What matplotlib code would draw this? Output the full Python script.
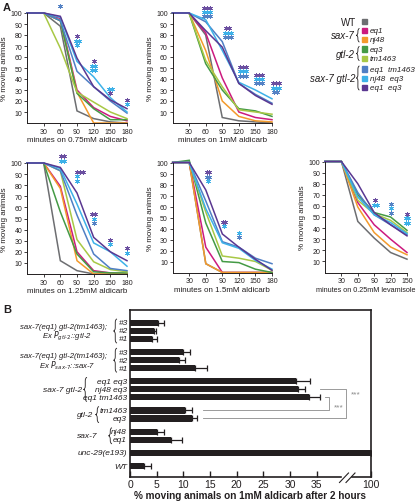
import numpy as np
import matplotlib.pyplot as plt
import matplotlib.transforms as mtransforms
from matplotlib.path import Path
from matplotlib.patches import PathPatch, Rectangle
from matplotlib.lines import Line2D

plt.rcParams["font.family"] = ["Liberation Sans Narrow", "Liberation Sans", "DejaVu Sans"]
plt.rcParams["mathtext.fontset"] = "custom"
plt.rcParams["mathtext.it"] = "Liberation Sans Narrow:italic"
plt.rcParams["mathtext.rm"] = "Liberation Sans Narrow"
plt.rcParams["axes.linewidth"] = 0.7

W, H = 416, 502
INK = "#231f20"

# ---- panel A data (% moving animals) ----
series = ["WT", "sax-7 eq1", "sax-7 nj48", "gtl-2 eq3", "gtl-2 tm1463",
          "eq1 tm1463", "nj48 eq3", "eq1 eq3"]
colors = ["#6d6e71", "#cc1a7f", "#f39a2c", "#449a45", "#a8c845",
          "#4f7fc4", "#3db1e8", "#5a3791"]
star_colors = {"p": "#6b4fa0", "c": "#3db1e8", "b": "#5582c4"}

t_ald = [0, 30, 60, 90, 120, 150, 180]
t_lev = [0, 30, 60, 90, 120, 150]

ald_075 = [
    [100, 100, 88, 11, 4, 1, 0],
    [100, 100, 95, 30, 14, 6, 2],
    [100, 100, 93, 28, 0, 0, 0],
    [100, 100, 93, 27, 13, 3, 3],
    [100, 100, 68, 28, 19, 10, 4],
    [100, 100, 93, 47, 33, 20, 9],
    [100, 100, 96, 56, 42, 23, 10],
    [100, 100, 97, 59, 33, 21, 13],
]
ald_1 = [
    [100, 100, 80, 5, 2, 1, 0],
    [100, 100, 82, 41, 10, 5, 3],
    [100, 100, 66, 20, 6, 2, 1],
    [100, 100, 54, 30, 13, 11, 6],
    [100, 100, 57, 33, 12, 10, 8],
    [100, 100, 92, 74, 36, 26, 18],
    [100, 100, 94, 66, 37, 30, 22],
    [100, 100, 84, 69, 36, 25, 17],
]
ald_125 = [
    [100, 100, 12, 3, 0, 0, 0],
    [100, 100, 79, 20, 3, 1, 0],
    [100, 100, 77, 12, 0, 0, 0],
    [100, 100, 56, 18, 2, 1, 1],
    [100, 100, 93, 31, 11, 4, 2],
    [100, 100, 93, 53, 18, 5, 3],
    [100, 100, 95, 63, 28, 20, 7],
    [100, 100, 96, 73, 33, 20, 12],
]
ald_15 = [
    [100, 100, 8, 0, 0, 0, 0],
    [100, 100, 23, 0, 0, 0, 0],
    [100, 100, 8, 0, 0, 0, 0],
    [100, 102, 45, 10, 9, 3, 0],
    [100, 100, 55, 15, 13, 10, 2],
    [100, 100, 65, 28, 23, 13, 8],
    [100, 100, 58, 27, 22, 11, 3],
    [100, 100, 75, 35, 23, 12, 2],
]
lev_025 = [
    [100, 100, 46, 31, 18, 12],
    [100, 100, 63, 43, 30, 18],
    [100, 100, 59, 36, 23, 16],
    [100, 100, 70, 54, 50, 38],
    [100, 100, 65, 53, 47, 36],
    [100, 100, 72, 52, 43, 34],
    [100, 100, 68, 52, 45, 35],
    [100, 100, 80, 54, 43, 33],
]

# significance asterisks: (minute, height, count, colour key)
stars_075 = [(60, 106, 1, "b"),
             (90, 79, 1, "p"), (90, 75, 2, "c"), (90, 71, 1, "c"),
             (120, 56, 1, "p"), (120, 52, 2, "c"), (120, 48, 2, "c"),
             (150, 31, 2, "c"), (150, 27, 1, "p"),
             (180, 21, 1, "p"), (180, 17, 1, "c")]
stars_1 = [(63, 105, 3, "p"), (63, 101, 3, "c"), (63, 97, 3, "b"),
           (100, 86, 2, "p"), (100, 82, 3, "c"), (100, 78, 3, "b"),
           (128, 51, 3, "p"), (128, 47, 3, "c"), (128, 43, 3, "b"),
           (156, 44, 3, "p"), (156, 40, 3, "c"), (156, 36, 3, "b"),
           (187, 36, 3, "p"), (187, 32, 3, "c"), (187, 28, 2, "b")]
stars_125 = [(63, 106, 2, "p"), (63, 102, 2, "c"),
             (95, 92, 3, "p"), (90, 88, 1, "c"), (90, 84, 1, "c"),
             (120, 54, 2, "p"), (120, 50, 1, "c"), (120, 46, 1, "b"),
             (150, 31, 1, "p"), (150, 27, 1, "c"),
             (180, 23, 1, "p"), (180, 19, 1, "c")]
stars_15 = [(64, 91, 2, "p"), (64, 87, 2, "b"), (64, 83, 1, "c"),
            (93, 46, 2, "p"), (93, 42, 1, "c"),
            (120, 36, 1, "c"), (120, 32, 1, "b")]
stars_lev = [(92, 65, 1, "p"), (92, 61, 2, "c"),
             (120, 62, 1, "b"), (120, 58, 1, "c"), (120, 54, 1, "b"),
             (150, 53, 1, "p"), (150, 49, 2, "c"), (150, 45, 2, "c")]

# ---- panel B data ----
group_sizes = [3, 3, 3, 2, 2, 1, 1]
bar_labels = ["#3", "#2", "#1", "#3", "#2", "#1",
              "eq1 eq3", "nj48 eq3", "eq1 tm1463", "tm1463", "eq3",
              "nj48", "eq1", "unc-29(e193)", "WT"]
bar_vals = [5.3, 4.5, 4.2, 10.0, 9.2, 12.2, 31.1, 31.5, 33.6,
            10.4, 11.7, 5.1, 7.7, 100, 2.6]
bar_err = [1.1, 0.3, 0.9, 1.3, 1.1, 2.3, 2.7, 1.4, 2.0,
           1.2, 0.8, 1.3, 2.0, 0, 1.3]
b_ticks = [0, 5, 10, 15, 20, 25, 30, 35, 100]

fig = plt.figure(figsize=(W / 100, H / 100), dpi=100)


def fx(x):
    return x / W


def fy(y):
    return 1 - y / H


def add_px_axes(l, t, r, b):
    return fig.add_axes([fx(l), fy(b), (r - l) / W, (b - t) / H])


def brace(x, y0, y1, w, lw=0.6, color=INK):
    ym = (y0 + y1) / 2
    r = min(w, (y1 - y0) / 4)
    pts = [(x, y0), (x - w / 2, y0), (x - w / 2, y0 + r), (x - w / 2, ym - r),
           (x - w / 2, ym), (x - w, ym), (x - w / 2, ym), (x - w / 2, ym + r),
           (x - w / 2, y1 - r), (x - w / 2, y1), (x, y1)]
    codes = [Path.MOVETO, Path.CURVE3, Path.CURVE3, Path.LINETO, Path.CURVE3,
             Path.CURVE3, Path.CURVE3, Path.CURVE3, Path.LINETO, Path.CURVE3,
             Path.CURVE3]
    verts = [(fx(a), fy(b)) for a, b in pts]
    fig.add_artist(PathPatch(Path(verts, codes), fill=False, lw=lw,
                             edgecolor=color, transform=fig.transFigure))


panels = [
    (ald_075, t_ald, stars_075, "minutes on 0.75mM aldicarb", 5.8, (27, 14, 127, 124)),
    (ald_1, t_ald, stars_1, "minutes on 1mM aldicarb", 5.8, (172.5, 14, 272, 124)),
    (ald_125, t_ald, stars_125, "minutes on 1.25mM aldicarb", 5.8, (27, 164, 127, 275)),
    (ald_15, t_ald, stars_15, "minutes on 1.5mM aldicarb", 5.8, (172.7, 163.5, 272, 273.5)),
    (lev_025, t_lev, stars_lev, "minutes on 0.25mM levamisole", 5.2, (325, 162.5, 407, 273.5)),
]

for data, t, stars, xlabel, xfs, box in panels:
    ax = add_px_axes(*box)
    for row, c in zip(data, colors):
        ax.plot(t, row, color=c, lw=1.1, clip_on=False, solid_joinstyle="miter")
    for x, y, n, key in stars:
        for i in range(n):
            ax.plot(x + (i - (n - 1) / 2) * 5.4, y, marker=(6, 2, 0), ms=3.5,
                    mew=0.55, color=star_colors[key], clip_on=False)
    ax.set_xlim(0, t[-1])
    ax.set_ylim(0, 100)
    ax.set_xticks(t[1:])
    ax.set_yticks(range(10, 101, 10))
    for sp in ["top", "right"]:
        ax.spines[sp].set_visible(False)
    for sp in ["left", "bottom"]:
        ax.spines[sp].set_color(INK)
    ax.tick_params(labelsize=5, length=2.5, width=0.6, pad=1, colors=INK)
    ax.set_xlabel(xlabel, fontsize=xfs, labelpad=1, color=INK)
    ax.set_ylabel("% moving animals", fontsize=5.8, labelpad=1.5, color=INK)

# legend
fig.text(fx(356), fy(22.5), "WT", ha="right", va="center", fontsize=7, color=INK)
legend_rows = [("WT", 22.5), ("eq1", 31.7), ("nj48", 40.7), ("eq3", 50.0),
               ("tm1463", 59.3), ("eq1  tm1463", 70.0), ("nj48  eq3", 79.3),
               ("eq1  eq3", 88.3)]
for (lab, y), c in zip(legend_rows, colors):
    fig.add_artist(Rectangle((fx(361.5), fy(y + 2.6)), 5.2 / W, 5.2 / H,
                             color=c, transform=fig.transFigure))
    if lab != "WT":
        fig.text(fx(370), fy(y), lab, ha="left", va="center", fontsize=5.8,
                 style="italic", color=INK)
for lab, y, y0, y1 in [("sax-7", 36, 29.5, 43), ("gtl-2", 54.5, 47.5, 61.5),
                       ("sax-7 gtl-2", 79.5, 67, 91)]:
    fig.text(fx(355), fy(y), lab, ha="right", va="center", fontsize=7,
             style="italic", color=INK)
    brace(359.5, y0, y1, 3.2)

fig.text(fx(3), fy(8), "A", fontsize=8, fontweight="bold", va="center", color=INK)
fig.text(fx(3), fy(310), "B", fontsize=8, fontweight="bold", va="center", color=INK)

# ---- panel B ----
pos = []
y = 0.0
for n in group_sizes:
    for _ in range(n):
        pos.append(y)
        y += 1
    y += 0.65

B_L, B_T, B_R, B_B = 130, 311, 371, 477.5
axb = add_px_axes(B_L, B_T, B_R, B_B)

k = 5.2 / 60


def fwd(x):
    x = np.asarray(x, dtype=float)
    return np.where(x <= 40, x, 40 + (x - 40) * k)


def inv(x):
    x = np.asarray(x, dtype=float)
    return np.where(x <= 40, x, 40 + (x - 40) / k)


axb.set_xscale("function", functions=(fwd, inv))
axb.barh(pos, bar_vals, height=0.78, color=INK, zorder=2)
axb.errorbar(bar_vals, pos, xerr=[np.zeros(len(bar_err)), bar_err], fmt="none",
             ecolor=INK, elinewidth=0.9, capsize=2, capthick=0.9, zorder=3)
axb.set_xlim(0, 100)
axb.set_ylim(pos[-1] + 10.5 / 8, pos[0] - 13 / 8)
axb.set_xticks(b_ticks)
axb.set_xticklabels([str(v) for v in b_ticks])
axb.set_yticks([])
axb.tick_params(axis="x", direction="in", length=4, width=1, labelsize=7.5,
                pad=2, colors=INK)
for sp in axb.spines.values():
    sp.set_linewidth(1.2)
    sp.set_color(INK)
axb.set_xlabel("% moving animals on 1mM aldicarb after 2 hours", fontsize=7.2,
               fontweight="bold", labelpad=0.5, color=INK)

tb = mtransforms.blended_transform_factory(axb.transAxes, axb.transData)


def bx(px):
    return (px - B_L) / (B_R - B_L)


for i, (lab, p) in enumerate(zip(bar_labels, pos)):
    if i < 6:
        axb.text(bx(118.5), p, lab, transform=tb, ha="left", va="center",
                 fontsize=6, style="italic", color=INK)
    else:
        axb.text(bx(127), p, lab, transform=tb, ha="right", va="center",
                 fontsize=6, style="italic", color=INK)

# group labels
g1 = (pos[0] + pos[2]) / 2
g2 = (pos[3] + pos[5]) / 2
for gc, promoter in [(g1, r"Ex $P_{gtl\text{-}2}$::gtl-2"),
                     (g2, r"Ex $P_{sax\text{-}7}$::sax-7")]:
    axb.text(bx(64), gc - 0.6, "sax-7(eq1) gtl-2(tm1463);", transform=tb,
             ha="center", va="center", fontsize=5.6, style="italic", color=INK)
    axb.text(bx(67), gc + 0.6, promoter, transform=tb, ha="center",
             va="center", fontsize=5.6, style="italic", color=INK)
axb.text(bx(82), (pos[6] + pos[8]) / 2, "sax-7 gtl-2", transform=tb, ha="right",
         va="center", fontsize=6, style="italic", color=INK)
axb.text(bx(93), (pos[9] + pos[10]) / 2, "gtl-2", transform=tb, ha="right",
         va="center", fontsize=6, style="italic", color=INK)
axb.text(bx(97), (pos[11] + pos[12]) / 2, "sax-7", transform=tb, ha="right",
         va="center", fontsize=6, style="italic", color=INK)

# braces in B (pixel coordinates from bar positions)
to_px = lambda p: B_T + (p - (pos[0] - 13 / 8)) * 8
for a, b, x, w in [(0, 2, 117, 3.5), (3, 5, 117, 3.5), (6, 8, 87, 3.5),
                   (9, 10, 99, 3.5), (11, 12, 112, 3.5)]:
    brace(x, to_px(pos[a]) - 4, to_px(pos[b]) + 4, w)

# significance brackets
GREY = "#8a8a8a"
for (ya, yb, xs, xv), (sx, sy) in [((pos[7], pos[10], 320, 345.7), (356, (pos[7] + pos[8]) / 2 + 0.05)),
                                   ((pos[8], pos[9], 325, 329.3), (338.5, (pos[8] + pos[9]) / 2 + 0.35))]:
    axb.plot([bx(xs), bx(xv), bx(xv), bx(203)], [ya, ya, yb, yb], color=GREY,
             lw=0.6, transform=tb, clip_on=False)
    axb.text(bx(sx), sy, "***", transform=tb, ha="center", va="center",
             fontsize=6, color=GREY)

# axis break
fig.add_artist(Rectangle((fx(342), fy(480)), 8 / W, 4 / H, color="white",
                         transform=fig.transFigure, zorder=5))
for x0 in (339.5, 346):
    fig.add_artist(Line2D([fx(x0), fx(x0 + 9)], [fy(483.5), fy(474)], lw=0.8,
                          color=INK, transform=fig.transFigure, zorder=6))

fig.savefig("out.png", dpi=100)
